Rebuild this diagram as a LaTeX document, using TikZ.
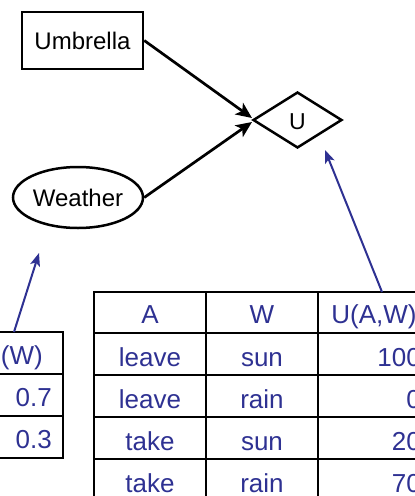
\documentclass[tikz,border=0pt]{standalone}
\usepackage{fontspec}
\setmainfont{Liberation Sans}
\usetikzlibrary{shapes.geometric,arrows.meta}
\definecolor{tblue}{RGB}{46,49,146}
\tikzset{
  nodeborder/.style={draw=black,line width=2.5pt,inner sep=0pt,font=\fontsize{24}{28}\selectfont},
  blackarrow/.style={line width=2.7pt,-{Stealth[length=16pt,width=14pt,inset=4pt]}},
  bluearrow/.style={draw=tblue,line width=2pt,-{Stealth[length=13pt,width=10pt,inset=3pt]}},
  tline/.style={line width=2.7pt,line cap=rect},
  ttext/.style={text=tblue,font=\fontsize{26}{30}\selectfont,inner sep=0pt,text height=19pt,text depth=0pt},
}
\begin{document}
\begin{tikzpicture}[x=1pt,y=-1pt]
\useasboundingbox (0,0) rectangle (415,496);
\clip (0,0) rectangle (415,496);
% nodes
\node[nodeborder,rectangle,minimum width=121pt,minimum height=57pt] (umb) at (82.5,40.5) {Umbrella};
\node[nodeborder,ellipse,minimum width=130pt,minimum height=61pt] (wea) at (78,197.5) {Weather};
\node[nodeborder,diamond,minimum width=89pt,minimum height=56pt,font=\fontsize{23}{27}\selectfont] (U) at (297.5,120) {};
\node[font=\fontsize{23}{27}\selectfont,inner sep=0pt,text height=16.5pt,text depth=0pt] (Ut) at (297.5,121.5) {U};
\coordinate (ua) at (252,118);
\coordinate (ub) at (252,122);
\draw[blackarrow] (umb.east) -- (ua);
\draw[blackarrow] (wea.east) -- (ub);
% big table
\foreach \y in {292,333,375,417,459,501} \draw[tline] (94,\y) -- (430,\y);
\foreach \x in {94,206,318,430} \draw[tline] (\x,292) -- (\x,501);
\node[ttext] (hA) at (150,314) {A};
\node[ttext] (hW) at (262,314) {W};
\node[ttext] (hU) at (374,314) {U(A,W)};
\node[ttext] (a1) at (150,356.5) {leave};
\node[ttext] (w1) at (262,356.5) {sun};
\node[ttext,anchor=east] (u1) at (421,356.5) {100};
\node[ttext] (a2) at (150,398.5) {leave};
\node[ttext] (w2) at (262,398.5) {rain};
\node[ttext,anchor=east] (u2) at (421,398.5) {0};
\node[ttext] (a3) at (150,440.5) {take};
\node[ttext] (w3) at (262,440.5) {sun};
\node[ttext,anchor=east] (u3) at (421,440.5) {20};
\node[ttext] (a4) at (150,482.5) {take};
\node[ttext] (w4) at (262,482.5) {rain};
\node[ttext,anchor=east] (u4) at (421,482.5) {70};
% small table
\foreach \y in {332,374,416,458} \draw[tline] (-40,\y) -- (63,\y);
\draw[tline] (63,332) -- (63,458);
\node[ttext,anchor=east] (pw) at (43,354.5) {P(W)};
\node[ttext,anchor=east] (p1) at (52,396.5) {0.7};
\node[ttext,anchor=east] (p2) at (52,438.5) {0.3};
% blue arrows
\coordinate (utab) at (382,292);
\coordinate (utip) at (325,150);
\coordinate (ptab) at (14,332);
\coordinate (ptip) at (39,253);
\draw[bluearrow] (utab) -- (utip);
\draw[bluearrow] (ptab) -- (ptip);
\end{tikzpicture}
\end{document}
